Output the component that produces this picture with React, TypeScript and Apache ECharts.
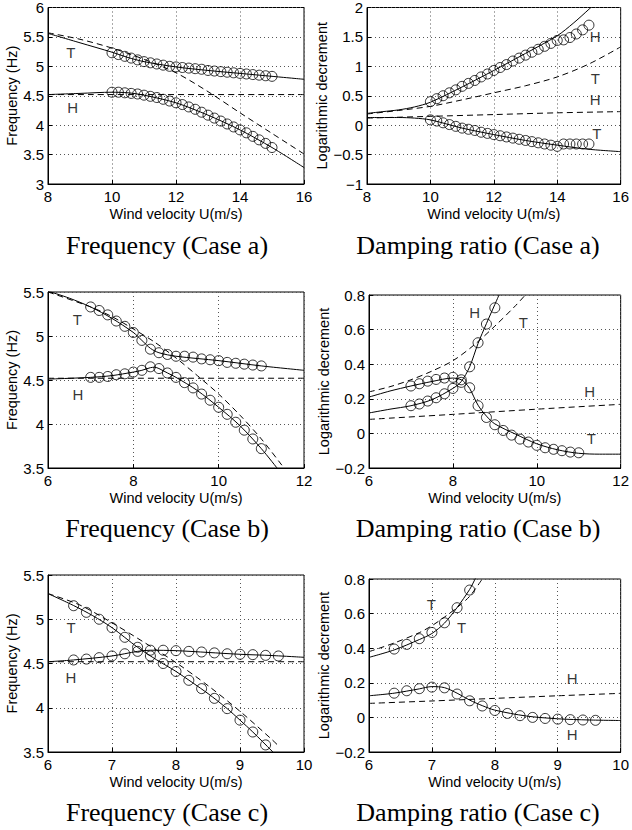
import React, { useEffect, useRef } from 'react';
import * as echarts from 'echarts';

// ---------- Case a : frequency ----------
const aMarkX = [10, 10.2, 10.4, 10.6, 10.8, 11, 11.2, 11.4, 11.6, 11.8, 12, 12.2, 12.4, 12.6, 12.8, 13, 13.2, 13.4, 13.6, 13.8, 14, 14.2, 14.4, 14.6, 14.8, 15];
const aFreqMarkT = [5.23, 5.2, 5.17, 5.14, 5.11, 5.08, 5.06, 5.04, 5.02, 5.0, 4.99, 4.98, 4.97, 4.96, 4.95, 4.93, 4.92, 4.91, 4.9, 4.89, 4.88, 4.87, 4.86, 4.85, 4.84, 4.83];
const aFreqMarkH = [4.56, 4.56, 4.55, 4.54, 4.53, 4.51, 4.49, 4.47, 4.44, 4.41, 4.38, 4.35, 4.31, 4.27, 4.22, 4.17, 4.12, 4.07, 4.02, 3.97, 3.92, 3.87, 3.81, 3.75, 3.69, 3.62];
const aFreqSolidX = [8, 9, 10, 10.5, 11, 12, 13, 14, 15, 16];
const aFreqSolidT = [5.56, 5.4, 5.24, 5.15, 5.08, 4.99, 4.93, 4.88, 4.83, 4.78];
const aFreqSolidH = [4.52, 4.54, 4.56, 4.55, 4.51, 4.38, 4.17, 3.92, 3.62, 3.28];
const aFreqDashX = [8, 9, 10, 11, 12, 13, 14, 15, 16];
const aFreqDashT = [5.57, 5.46, 5.31, 5.12, 4.89, 4.57, 4.21, 3.86, 3.51];
const aFreqDashHX = [8, 16];
const aFreqDashH = [4.52, 4.52];

// ---------- Case a : damping ----------
const aDampMarkH = [0.4, 0.45, 0.5, 0.55, 0.6, 0.66, 0.71, 0.76, 0.82, 0.87, 0.93, 0.98, 1.03, 1.09, 1.14, 1.19, 1.24, 1.29, 1.34, 1.39, 1.44, 1.45, 1.49, 1.55, 1.62, 1.7];
const aDampMarkT = [0.09, 0.07, 0.04, 0.01, -0.02, -0.05, -0.07, -0.09, -0.12, -0.14, -0.16, -0.18, -0.2, -0.22, -0.24, -0.26, -0.28, -0.3, -0.32, -0.34, -0.36, -0.32, -0.32, -0.32, -0.32, -0.32];
const aDampSolidHX = [8, 8.5, 9, 9.5, 10, 11, 12, 13, 14, 14.5, 15, 15.2];
const aDampSolidH = [0.2, 0.23, 0.26, 0.31, 0.39, 0.65, 0.93, 1.22, 1.52, 1.73, 1.97, 2.07];
const aDampSolidTX = [8, 9, 9.5, 10, 11, 12, 13, 14, 15, 16];
const aDampSolidT = [0.13, 0.13, 0.12, 0.09, -0.05, -0.16, -0.26, -0.34, -0.41, -0.45];
const aDampDashTX = [8, 9, 10, 11, 12, 13, 14, 15, 16];
const aDampDashT = [0.19, 0.25, 0.32, 0.43, 0.55, 0.67, 0.82, 1.04, 1.33];
const aDampDashHX = [8, 10, 12, 14, 16];
const aDampDashH = [0.12, 0.15, 0.18, 0.21, 0.23];

// ---------- Case b : frequency ----------
const bMarkX = [7, 7.2, 7.4, 7.6, 7.8, 8, 8.2, 8.4, 8.6, 8.8, 9, 9.2, 9.4, 9.6, 9.8, 10, 10.2, 10.4, 10.6, 10.8, 11];
const bFreqMarkT = [5.33, 5.29, 5.24, 5.17, 5.11, 5.04, 4.95, 4.85, 4.81, 4.79, 4.77, 4.77, 4.76, 4.74, 4.73, 4.72, 4.7, 4.69, 4.68, 4.67, 4.66];
const bFreqMarkH = [4.53, 4.53, 4.54, 4.56, 4.57, 4.59, 4.61, 4.65, 4.63, 4.58, 4.53, 4.47, 4.41, 4.34, 4.27, 4.19, 4.11, 4.02, 3.93, 3.83, 3.72];
const bFreqSolidTX = [6, 6.5, 7, 7.5, 8, 8.2, 8.4, 8.6, 9, 10, 11, 12];
const bFreqSolidT = [5.51, 5.43, 5.33, 5.2, 5.04, 4.95, 4.86, 4.81, 4.77, 4.72, 4.66, 4.61];
const bFreqSolidHX = [6, 7, 7.5, 8, 8.2, 8.4, 8.5, 8.6, 8.8, 9, 9.5, 10, 10.5, 11, 11.4];
const bFreqSolidH = [4.51, 4.53, 4.55, 4.59, 4.61, 4.64, 4.645, 4.63, 4.58, 4.53, 4.38, 4.19, 3.98, 3.72, 3.48];
const bFreqDashTX = [6, 7, 7.5, 8, 8.5, 9, 9.5, 10, 10.5, 11, 11.5, 12];
const bFreqDashT = [5.5, 5.33, 5.22, 5.08, 4.93, 4.75, 4.55, 4.34, 4.1, 3.83, 3.52, 3.2];
const bFreqDashHX = [6, 12];
const bFreqDashH = [4.52, 4.52];

// ---------- Case b : damping ----------
const bDampMarkA = [0.274, 0.287, 0.302, 0.312, 0.32, 0.324, 0.31, 0.264, 0.16, 0.092, 0.05, 0.017, -0.01, -0.033, -0.05, -0.069, -0.083, -0.092, -0.1, -0.108, -0.112];
const bDampMarkBX = [7, 7.2, 7.4, 7.6, 7.8, 8, 8.2, 8.4, 8.6, 8.8, 9];
const bDampMarkB = [0.16, 0.17, 0.187, 0.206, 0.229, 0.26, 0.295, 0.385, 0.524, 0.632, 0.726];
const bDampSolidAX = [6, 6.5, 7, 7.5, 8, 8.2, 8.3, 8.4, 8.6, 8.8, 9, 9.5, 10, 10.5, 11, 11.5, 12];
const bDampSolidA = [0.21, 0.245, 0.274, 0.3, 0.32, 0.31, 0.29, 0.26, 0.163, 0.1, 0.055, -0.005, -0.06, -0.095, -0.115, -0.12, -0.12];
const bDampSolidBX = [6, 6.5, 7, 7.5, 8, 8.2, 8.4, 8.6, 8.8, 9, 9.1];
const bDampSolidB = [0.118, 0.14, 0.16, 0.195, 0.26, 0.3, 0.385, 0.52, 0.635, 0.745, 0.8];
const bDampDashTX = [6, 6.5, 7, 7.5, 8, 8.5, 9, 9.5, 9.8];
const bDampDashT = [0.24, 0.27, 0.31, 0.36, 0.42, 0.51, 0.62, 0.74, 0.82];
const bDampDashHX = [6, 8, 10, 12];
const bDampDashH = [0.081, 0.11, 0.14, 0.168];

// ---------- Case c : frequency ----------
const cMarkAX = [6.4, 6.6, 6.8, 7, 7.2, 7.4, 7.6, 7.8, 8, 8.2, 8.4, 8.6, 8.8, 9, 9.2, 9.4];
const cFreqMarkA = [5.153, 5.078, 5.0, 4.905, 4.796, 4.683, 4.585, 4.5, 4.41, 4.31, 4.216, 4.106, 3.99, 3.86, 3.726, 3.58];
const cMarkBX = [6.4, 6.6, 6.8, 7, 7.2, 7.4, 7.6, 7.8, 8, 8.2, 8.4, 8.6, 8.8, 9, 9.2, 9.4, 9.6];
const cFreqMarkB = [4.54, 4.55, 4.566, 4.585, 4.61, 4.637, 4.65, 4.65, 4.645, 4.637, 4.63, 4.62, 4.61, 4.604, 4.6, 4.592, 4.585];
const cFreqSolidAX = [6, 6.4, 6.7, 7, 7.4, 7.7, 8, 8.5, 8.8, 9, 9.2, 9.5, 9.55];
const cFreqSolidA = [5.29, 5.155, 5.04, 4.905, 4.683, 4.54, 4.41, 4.16, 3.99, 3.86, 3.726, 3.51, 3.47];
const cFreqSolidBX = [6, 6.4, 7, 7.4, 7.6, 8, 8.5, 9, 9.5, 10];
const cFreqSolidB = [4.52, 4.54, 4.585, 4.637, 4.65, 4.645, 4.625, 4.604, 4.59, 4.57];
const cFreqDashTX = [6, 6.5, 7, 7.5, 8, 8.5, 9, 9.5, 9.6];
const cFreqDashT = [5.29, 5.16, 4.96, 4.74, 4.51, 4.25, 3.96, 3.64, 3.57];
const cFreqDashHX = [6, 10];
const cFreqDashH = [4.52, 4.52];

// ---------- Case c : damping ----------
const cDampMarkUX = [6.4, 6.6, 6.8, 7, 7.2, 7.4, 7.6];
const cDampMarkU = [0.395, 0.422, 0.455, 0.491, 0.547, 0.634, 0.736];
const cDampMarkL = [0.14, 0.154, 0.166, 0.175, 0.171, 0.135, 0.096, 0.066, 0.04, 0.023, 0.01, 0.0, -0.006, -0.01, -0.013, -0.015, -0.017];
const cDampSolidUX = [6, 6.4, 6.8, 7, 7.2, 7.4, 7.6, 7.7];
const cDampSolidU = [0.347, 0.39, 0.45, 0.485, 0.545, 0.635, 0.74, 0.81];
const cDampSolidLX = [6, 6.4, 6.8, 7, 7.2, 7.4, 7.6, 7.8, 8, 8.5, 9, 9.5, 10];
const cDampSolidL = [0.125, 0.14, 0.165, 0.178, 0.172, 0.14, 0.1, 0.068, 0.042, 0.008, -0.008, -0.015, -0.018];
const cDampDashTX = [6, 6.4, 6.8, 7, 7.2, 7.4, 7.6, 7.8];
const cDampDashT = [0.38, 0.43, 0.49, 0.53, 0.58, 0.635, 0.7, 0.8];
const cDampDashHX = [6, 7, 8, 9, 10];
const cDampDashH = [0.081, 0.095, 0.11, 0.125, 0.139];

// ---------- mode labels ----------
const aFreqLabels = [{ x: 8.71, y: 5.23, t: 'T' }, { x: 8.77, y: 4.3, t: 'H' }];
const aDampLabels = [{ x: 15.2, y: 1.51, t: 'H' }, { x: 15.2, y: 0.79, t: 'T' }, { x: 15.2, y: 0.44, t: 'H' }, { x: 15.25, y: -0.14, t: 'T' }];
const bFreqLabels = [{ x: 6.69, y: 5.19, t: 'T' }, { x: 6.7, y: 4.33, t: 'H' }];
const bDampLabels = [{ x: 8.52, y: 0.7, t: 'H' }, { x: 9.68, y: 0.64, t: 'T' }, { x: 11.26, y: 0.24, t: 'H' }, { x: 11.3, y: -0.03, t: 'T' }];
const cFreqLabels = [{ x: 6.36, y: 4.91, t: 'T' }, { x: 6.36, y: 4.34, t: 'H' }];
const cDampLabels = [{ x: 6.99, y: 0.65, t: 'T' }, { x: 7.47, y: 0.52, t: 'T' }, { x: 9.23, y: 0.226, t: 'H' }, { x: 9.23, y: -0.1, t: 'H' }];

const captions = ['Frequency (Case a)', 'Damping ratio (Case a)', 'Frequency (Case b)', 'Damping ratio (Case b)', 'Frequency (Case c)', 'Damping ratio (Case c)'];
const xAxisName = 'Wind velocity U(m/s)';
const freqName = 'Frequency (Hz)';
const dampName = 'Logarithmic decrement';

const zip = (xs: number[], ys: number[]) => xs.map((x, i) => [x, ys[i]]);

const SANS = '"Liberation Sans", Arial, sans-serif';
const SERIF = '"Liberation Serif", "Times New Roman", serif';

function fmt(v: number) {
  const s = String(Math.round(v * 100) / 100);
  return s.replace('-', '\u2212');
}

export default function App() {
  const ref = useRef<HTMLDivElement>(null);
  useEffect(() => {
    if (!ref.current) return;
    const chart = echarts.init(ref.current, null, { renderer: 'svg' });

    const grids = [
      { left: 48, top: 7, width: 256, height: 177 },
      { left: 367, top: 7, width: 256, height: 177 },
      { left: 48, top: 292, width: 256, height: 176 },
      { left: 369, top: 295, width: 253, height: 173 },
      { left: 48, top: 575, width: 256, height: 177 },
      { left: 369, top: 579, width: 254, height: 173 },
    ];
    const xr = [
      [8, 16, 2], [8, 16, 2], [6, 12, 2], [6, 12, 2], [6, 10, 1], [6, 10, 1],
    ];
    const yr = [
      [3, 6, 0.5], [-1, 2, 0.5], [3.5, 5.5, 0.5], [-0.2, 0.8, 0.2], [3.5, 5.5, 0.5], [-0.2, 0.8, 0.2],
    ];

    const splitLine = { show: true, lineStyle: { color: '#555', type: [1, 3], width: 1 } };

    const xAxis = xr.map((r, i) => ({
      type: 'value', gridIndex: i, min: r[0], max: r[1], interval: r[2],
      axisLine: { show: true, onZero: false, lineStyle: { color: '#000', width: 1 } },
      axisTick: { show: true, inside: true, length: 4, lineStyle: { color: '#000' } },
      axisLabel: { color: '#000', fontSize: 15, fontFamily: SANS, margin: 5, formatter: fmt },
      splitLine,
      name: xAxisName, nameLocation: 'middle', nameGap: 22,
      nameTextStyle: { color: '#000', fontSize: 14.5, fontFamily: SANS },
    }));
    const yAxis = yr.map((r, i) => ({
      type: 'value', gridIndex: i, min: r[0], max: r[1], interval: r[2],
      axisLine: { show: true, onZero: false, lineStyle: { color: '#000', width: 1 } },
      axisTick: { show: true, inside: true, length: 4, lineStyle: { color: '#000' } },
      axisLabel: { color: '#000', fontSize: 15, fontFamily: SANS, margin: 4, formatter: fmt },
      splitLine,
      name: i % 2 === 0 ? freqName : dampName, nameLocation: 'middle', nameGap: i % 2 === 0 ? 25 : 33,
      nameTextStyle: { color: '#000', fontSize: 14.5, fontFamily: SANS },
    }));

    const series: any[] = [];
    const solid = (g: number, xs: number[], ys: number[]) => series.push({
      type: 'line', xAxisIndex: g, yAxisIndex: g, data: zip(xs, ys), symbol: 'none', smooth: 0.3,
      lineStyle: { color: '#000', width: 1 }, silent: true, clip: true,
    });
    const dashed = (g: number, xs: number[], ys: number[]) => series.push({
      type: 'line', xAxisIndex: g, yAxisIndex: g, data: zip(xs, ys), symbol: 'none', smooth: 0.3,
      lineStyle: { color: '#000', width: 1, type: [6, 4] }, silent: true, clip: true,
    });
    const marks = (g: number, xs: number[], ys: number[]) => series.push({
      type: 'scatter', xAxisIndex: g, yAxisIndex: g, data: zip(xs, ys), symbol: 'circle', symbolSize: 10,
      itemStyle: { color: 'rgba(255,255,255,0)', borderColor: '#000', borderWidth: 1 }, silent: true, clip: true,
    });
    const labels = (g: number, ls: { x: number; y: number; t: string }[]) => series.push({
      type: 'scatter', xAxisIndex: g, yAxisIndex: g, symbolSize: 1,
      itemStyle: { color: 'rgba(0,0,0,0)' }, silent: true,
      data: ls.map((l) => ({ value: [l.x, l.y], name: l.t })),
      label: {
        show: true, position: 'inside', formatter: '{b}', color: '#000', fontSize: 15, fontFamily: SANS,
        textBorderWidth: 0, textBorderColor: 'transparent', textShadowBlur: 0,
      },
    });

    // Case a frequency
    dashed(0, aFreqDashX, aFreqDashT);
    dashed(0, aFreqDashHX, aFreqDashH);
    solid(0, aFreqSolidX, aFreqSolidT);
    solid(0, aFreqSolidX, aFreqSolidH);
    marks(0, aMarkX, aFreqMarkT);
    marks(0, aMarkX, aFreqMarkH);
    labels(0, aFreqLabels);
    // Case a damping
    dashed(1, aDampDashTX, aDampDashT);
    dashed(1, aDampDashHX, aDampDashH);
    solid(1, aDampSolidHX, aDampSolidH);
    solid(1, aDampSolidTX, aDampSolidT);
    marks(1, aMarkX, aDampMarkH);
    marks(1, aMarkX, aDampMarkT);
    labels(1, aDampLabels);
    // Case b frequency
    dashed(2, bFreqDashTX, bFreqDashT);
    dashed(2, bFreqDashHX, bFreqDashH);
    solid(2, bFreqSolidTX, bFreqSolidT);
    solid(2, bFreqSolidHX, bFreqSolidH);
    marks(2, bMarkX, bFreqMarkT);
    marks(2, bMarkX, bFreqMarkH);
    labels(2, bFreqLabels);
    // Case b damping
    dashed(3, bDampDashTX, bDampDashT);
    dashed(3, bDampDashHX, bDampDashH);
    solid(3, bDampSolidAX, bDampSolidA);
    solid(3, bDampSolidBX, bDampSolidB);
    marks(3, bMarkX, bDampMarkA);
    marks(3, bDampMarkBX, bDampMarkB);
    labels(3, bDampLabels);
    // Case c frequency
    dashed(4, cFreqDashTX, cFreqDashT);
    dashed(4, cFreqDashHX, cFreqDashH);
    solid(4, cFreqSolidAX, cFreqSolidA);
    solid(4, cFreqSolidBX, cFreqSolidB);
    marks(4, cMarkAX, cFreqMarkA);
    marks(4, cMarkBX, cFreqMarkB);
    labels(4, cFreqLabels);
    // Case c damping
    dashed(5, cDampDashTX, cDampDashT);
    dashed(5, cDampDashHX, cDampDashH);
    solid(5, cDampSolidUX, cDampSolidU);
    solid(5, cDampSolidLX, cDampSolidL);
    marks(5, cDampMarkUX, cDampMarkU);
    marks(5, cMarkBX, cDampMarkL);
    labels(5, cDampLabels);

    const capPos = [
      [167, 245], [478, 245], [167, 528], [478, 528], [167, 812], [478, 812],
    ];
    const graphic = captions.map((c, i) => ({
      type: 'text', x: capPos[i][0], y: capPos[i][1], silent: true,
      style: { text: c, fontSize: 26, fontFamily: SERIF, fill: '#000', align: 'center', verticalAlign: 'middle' },
    }));

    chart.setOption({
      animation: false,
      backgroundColor: '#fff',
      grid: grids.map((g) => ({ ...g, show: true, borderColor: '#000', borderWidth: 1, backgroundColor: 'transparent' })),
      xAxis, yAxis, series, graphic,
    });
    return () => chart.dispose();
  }, []);
  return <div ref={ref} style={{ position: 'absolute', left: 0, top: 0, width: 632, height: 830 }} />;
}
